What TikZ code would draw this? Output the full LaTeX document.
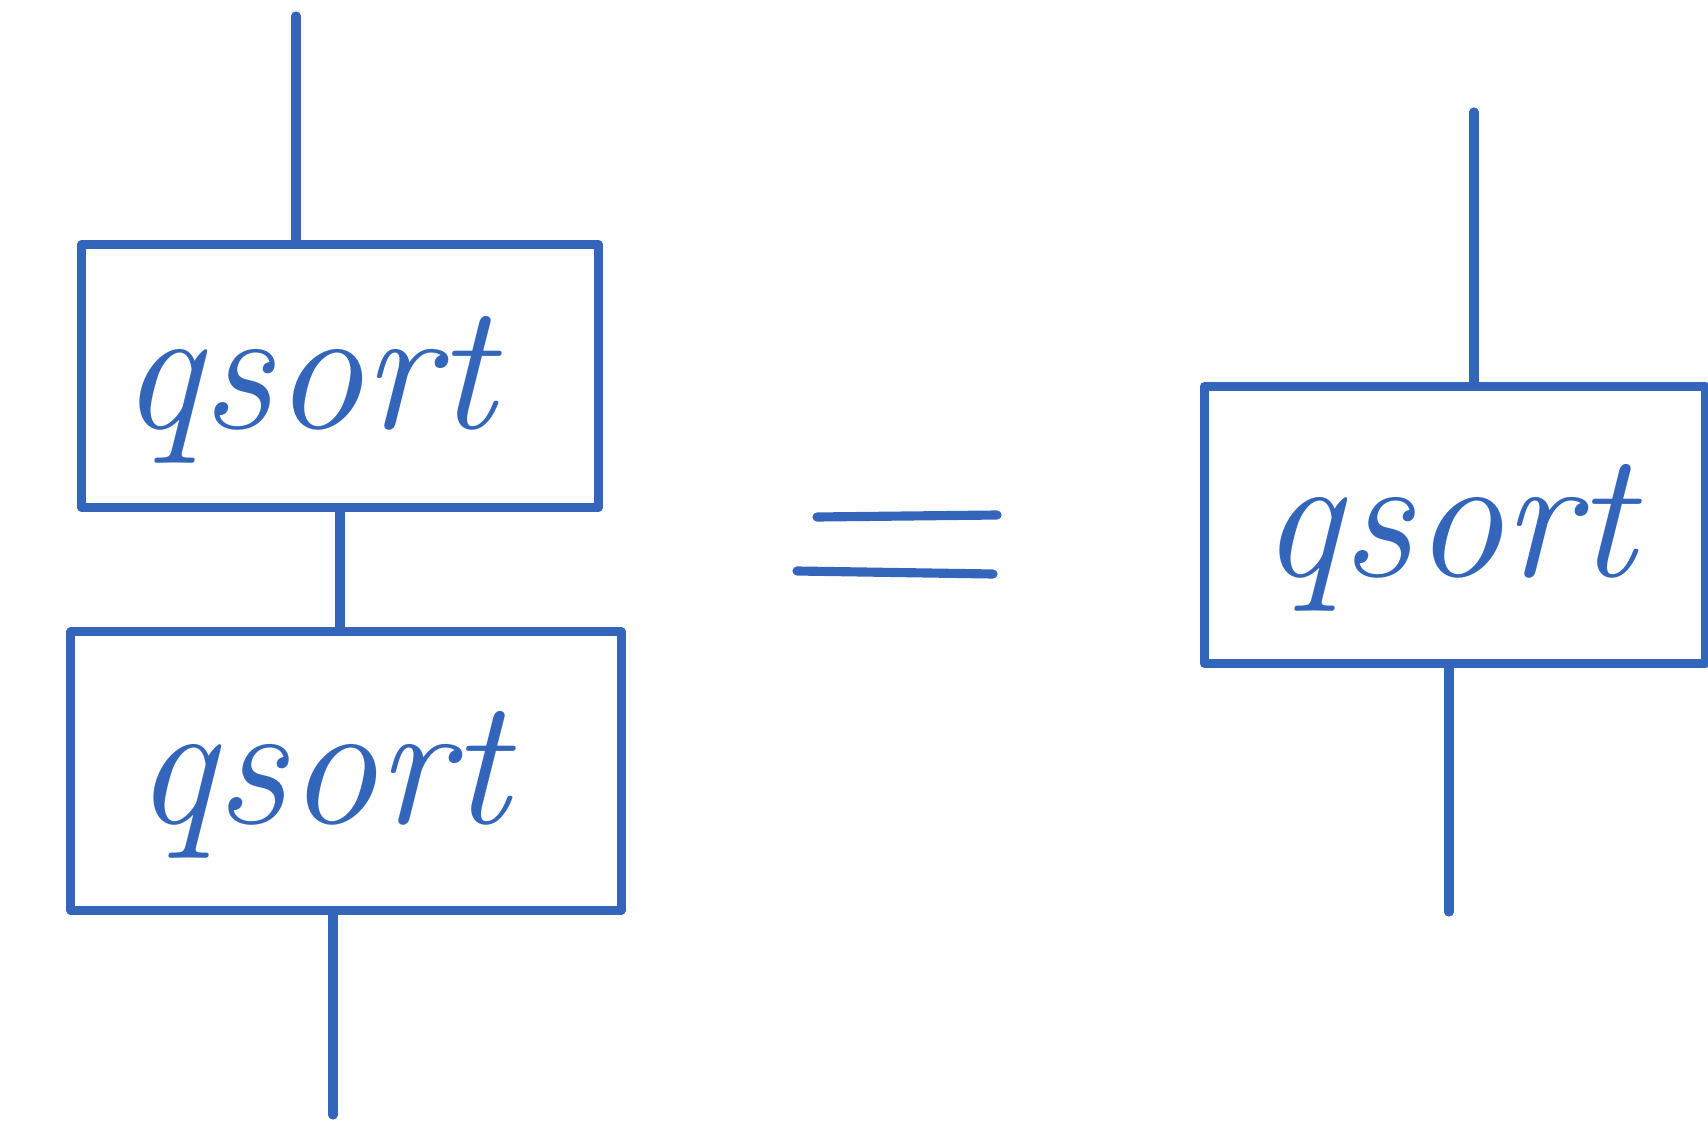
\documentclass[tikz,border=0pt]{standalone}
\usetikzlibrary{calc}
\definecolor{ink}{HTML}{3366BB}
\begin{document}
\begin{tikzpicture}[x=0.01cm,y=-0.01cm,
  pen/.style={draw=ink,line width=2.6pt,line cap=round,line join=round},
  qbox/.style={pen,rectangle,inner sep=0pt},
  qtext/.style={text=ink,inner sep=0pt,font=\fontsize{51}{56}\selectfont\itshape},
  wire/.style={pen}]
\useasboundingbox (0,0) rectangle (1708,1121);
% boxes
\node[qbox,minimum width=5.17cm,minimum height=2.62cm] (b1) at (340,376) {};
\node[qbox,minimum width=5.50cm,minimum height=2.78cm] (b2) at (346,771) {};
\node[qbox,minimum width=5.01cm,minimum height=2.77cm] (b3) at (1455,525) {};
% labels
\node[qtext] (l1) at (308,390) {qsort};
\node[qtext] (l2) at (322,785) {qsort};
\node[qtext] (l3) at (1448,538) {qsort};
% wire ends
\coordinate (t1) at (296,16);
\coordinate (m1) at (340,0);
\coordinate (e2) at (333,1115);
\coordinate (t3) at (1474,112);
\coordinate (e3) at (1449,912);
% wires
\draw[wire] (t1) -- (t1 |- b1.north);
\draw[wire] (m1 |- b1.south) -- (m1 |- b2.north);
\draw[wire] (e2 |- b2.south) -- (e2);
\draw[wire] (t3) -- (t3 |- b3.north);
\draw[wire] (e3 |- b3.south) -- (e3);
% equals sign
\draw[pen] (817,517) -- (997,515);
\draw[pen] (797,571) -- (993,574);
\end{tikzpicture}
\end{document}
